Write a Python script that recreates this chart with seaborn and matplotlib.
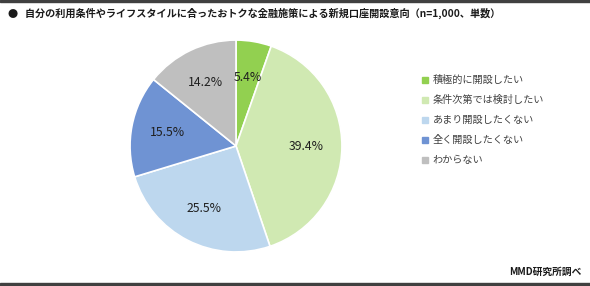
import matplotlib
matplotlib.use('Agg')
import matplotlib.pyplot as plt
from matplotlib.lines import Line2D
import matplotlib.patches as mpatches
import seaborn as sns

categories = ['積極的に開設したい', '条件次第では検討したい', 'あまり開設したくない',
              '全く開設したくない', 'わからない']
shares = [5.4, 39.4, 25.5, 15.5, 14.2]
colors = ['#92D050', '#D0E9B2', '#BDD7EE', '#6F93D3', '#BFBFBF']
title = '●   自分の利用条件やライフスタイルに合ったおトクな金融施策による新規口座開設意向（n=1,000、単数）'
source = 'MMD研究所調べ'

sns.set_theme(style='white')
plt.rcParams['font.family'] = ['Noto Sans CJK JP', 'DejaVu Sans']

fig = plt.figure(figsize=(5.9, 2.86), dpi=100)
palette = sns.color_palette(colors)

ax = fig.add_axes([129 / 590, 33 / 286, 214 / 590, 214 / 286])
wedges, _, autotexts = ax.pie(
    shares, colors=palette, startangle=90, counterclock=False,
    autopct='%.1f%%', pctdistance=0.66,
    wedgeprops=dict(edgecolor='white', linewidth=1.2),
    textprops=dict(fontsize=8.8, color='#1f1f1f'))
ax.set_xlim(-1.01, 1.01)
ax.set_ylim(-1.01, 1.01)

handles = [Line2D([], [], marker='s', linestyle='', markersize=4,
                  markerfacecolor=c, markeredgecolor=c) for c in palette]
fig.legend(handles, categories, loc='upper left',
           bbox_to_anchor=(412 / 590, 1 - 66 / 286), frameon=False,
           fontsize=7.3, labelspacing=0.98, handlelength=0.8,
           handletextpad=0.35, labelcolor='#404040')

fig.text(8 / 590, 1 - 13 / 286, title, fontsize=7.3, fontweight='bold',
         va='center', ha='left', color='#1a1a1a')
fig.text(582 / 590, 1 - 272 / 286, source, fontsize=7, fontweight='bold',
         va='center', ha='right', color='#1a1a1a')

fig.add_artist(mpatches.Rectangle((0, 1 - 2 / 286), 1, 2 / 286,
                                  transform=fig.transFigure, color='#404040'))
fig.add_artist(mpatches.Rectangle((0, 0), 1, 3 / 286,
                                  transform=fig.transFigure, color='#404040'))

fig.savefig('out.png', dpi=100, facecolor='white')
